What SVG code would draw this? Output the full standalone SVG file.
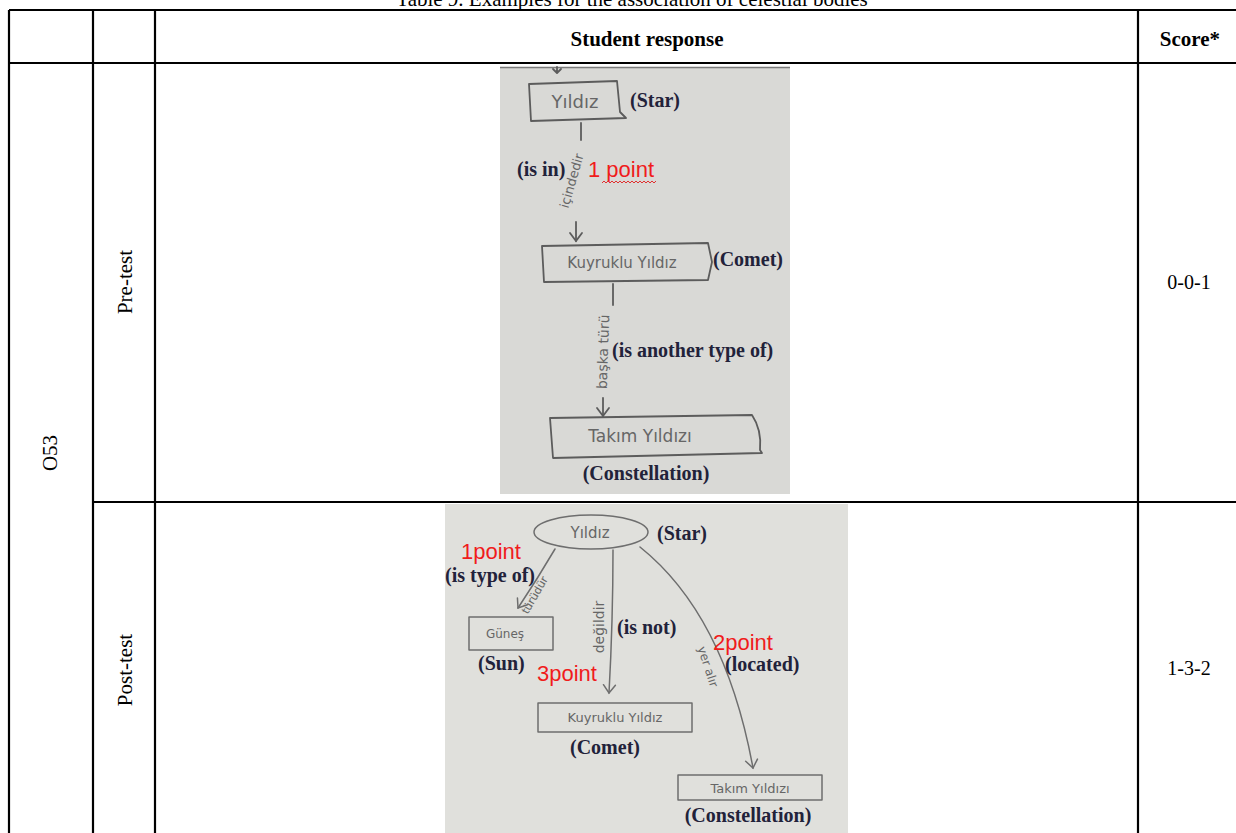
<svg xmlns="http://www.w3.org/2000/svg" width="1236" height="833" viewBox="0 0 1236 833">
<defs>
<style>
.grid{stroke:#000;stroke-width:2.2;fill:none}
.serif{font-family:"Liberation Serif","Times New Roman",serif;fill:#000}
.cap{font-family:"Liberation Serif","Times New Roman",serif;fill:#22223a;font-size:20px;font-weight:bold}
.red{font-family:"Liberation Sans",Arial,sans-serif;fill:#f01c1c;font-size:22px}
.hand{font-family:"DejaVu Sans","Liberation Sans",sans-serif;fill:#666;text-anchor:middle}
.pen{fill:none;stroke:#5c5c5c;stroke-width:1.8;stroke-linecap:round;stroke-linejoin:round}
.pen2{fill:none;stroke:#6e6e6e;stroke-width:1.5;stroke-linecap:round;stroke-linejoin:round}
</style>
<marker id="vh" viewBox="-10 -8 12 16" markerWidth="12" markerHeight="16" refX="0" refY="0" orient="auto" markerUnits="userSpaceOnUse">
<path d="M-8,-6 L0,0 L-8,6" fill="none" stroke="#5c5c5c" stroke-width="1.8" stroke-linecap="round"/>
</marker>
<marker id="vh2" viewBox="-10 -8 12 16" markerWidth="12" markerHeight="16" refX="0" refY="0" orient="auto" markerUnits="userSpaceOnUse">
<path d="M-8,-6 L0,0 L-8,6" fill="none" stroke="#6e6e6e" stroke-width="1.5" stroke-linecap="round"/>
</marker>
</defs>
<rect width="1236" height="833" fill="#fff"/>

<g id="table">
<text class="serif" x="632" y="6" font-size="21" text-anchor="middle">Table 9. Examples for the association of celestial bodies</text>
<line class="grid" x1="9" y1="10" x2="1236" y2="10"/>
<line class="grid" x1="9" y1="63" x2="1236" y2="63"/>
<line class="grid" x1="93" y1="502" x2="1236" y2="502"/>
<line class="grid" x1="9" y1="10" x2="9" y2="833"/>
<line class="grid" x1="93" y1="10" x2="93" y2="833"/>
<line class="grid" x1="155" y1="10" x2="155" y2="833"/>
<line class="grid" x1="1138" y1="10" x2="1138" y2="833"/>
<text class="serif" x="647" y="46" font-size="21" font-weight="bold" text-anchor="middle">Student response</text>
<text class="serif" x="1190" y="46" font-size="21" font-weight="bold" text-anchor="middle">Score*</text>
<text class="serif" font-size="21" text-anchor="middle" transform="translate(57,453) rotate(-90)">O53</text>
<text class="serif" font-size="21" text-anchor="middle" transform="translate(132,282) rotate(-90)">Pre-test</text>
<text class="serif" font-size="21" text-anchor="middle" transform="translate(132,670) rotate(-90)">Post-test</text>
<text class="serif" x="1189" y="289" font-size="20" text-anchor="middle">0-0-1</text>
<text class="serif" x="1189" y="675" font-size="20" text-anchor="middle">1-3-2</text>
</g>

<g id="photo-pre">
<rect x="500" y="67" width="290" height="427" fill="#d9d9d6"/>
<line x1="500" y1="67.5" x2="790" y2="67.5" stroke="#7a7a7a" stroke-width="1.5"/>
</g>
<g id="photo-post">
<rect x="445" y="504" width="403" height="329" fill="#e0e0dc"/>
</g>

<g id="connectors">
<path class="pen" d="M557,67 L557,72 M553,69 L557,73 L561,69"/>
<path class="pen" d="M581,123 L581,140"/>
<path class="pen" d="M576,222 L576,241" marker-end="url(#vh)"/>
<path class="pen" d="M613,284 L613,305"/>
<path class="pen" d="M603,398 L603,416" marker-end="url(#vh)"/>
<path class="pen2" d="M555,549 Q538,578 518,608" marker-end="url(#vh2)"/>
<path class="pen2" d="M613,550 Q613,620 609,693" marker-end="url(#vh2)"/>
<path class="pen2" d="M640,547 Q725,615 753,768" marker-end="url(#vh2)"/>
</g>

<g id="pre-star">
<path class="pen" d="M529,84 L617,81 L620,112 L626,118 L531,121 Z"/>
<text class="hand" x="575" y="108" font-size="18" fill="#5a5a5a">Yıldız</text>
<text class="cap" x="630" y="107">(Star)</text>
</g>
<g id="pre-link1">
<text class="hand" font-size="13" fill="#777" transform="translate(576,182) rotate(-74)">içindedir</text>
<text class="cap" x="517" y="176" font-size="17">(is in)</text>
<text class="red" x="588" y="177" font-size="21">1 point</text>
<path d="M602,183 l2,-2 l2,2 l2,-2 l2,2 l2,-2 l2,2 l2,-2 l2,2 l2,-2 l2,2 l2,-2 l2,2 l2,-2 l2,2 l2,-2 l2,2 l2,-2 l2,2 l2,-2 l2,2 l2,-2 l2,2 l2,-2 l2,2 l2,-2 l2,2 l2,-2" fill="none" stroke="#e03030" stroke-width="1"/>
</g>
<g id="pre-comet">
<path class="pen" d="M542,246 L708,243 L712,262 L708,280 L544,282 Z"/>
<text class="hand" x="622" y="268" font-size="15" fill="#6a6a6a">Kuyruklu Yıldız</text>
<text class="cap" x="713" y="266">(Comet)</text>
</g>
<g id="pre-link2">
<text class="hand" font-size="14" fill="#777" transform="translate(608,352) rotate(-88)">başka türü</text>
<text class="cap" x="612" y="357" font-size="17">(is another type of)</text>
</g>
<g id="pre-constellation">
<path class="pen" d="M550,418 L752,415 Q762,430 760,450 L762,453 L553,458 Z"/>
<text class="hand" x="640" y="442" font-size="17" fill="#666">Takım Yıldızı</text>
<text class="cap" x="646" y="480" text-anchor="middle">(Constellation)</text>
</g>

<g id="post-star">
<ellipse class="pen2" cx="591" cy="532" rx="57" ry="17"/>
<text class="hand" x="590" y="538" font-size="15" fill="#777">Yıldız</text>
<text class="cap" x="657" y="540">(Star)</text>
</g>
<g id="post-link1">
<text class="red" x="461" y="559">1point</text>
<text class="cap" x="445" y="582" font-size="13">(is type of)</text>
<text class="hand" font-size="11" fill="#888" transform="translate(538,597) rotate(-60)">türüdür</text>
</g>
<g id="post-sun">
<rect class="pen2" x="469" y="617" width="84" height="33"/>
<text class="hand" x="505" y="638" font-size="12" fill="#9a9a9a">Güneş</text>
<text class="cap" x="478" y="670" font-size="19">(Sun)</text>
</g>
<g id="post-link2">
<text class="hand" font-size="14" fill="#777" transform="translate(604,627) rotate(-90)">değildir</text>
<text class="cap" x="617" y="634" font-size="17">(is not)</text>
<text class="red" x="537" y="681">3point</text>
</g>
<g id="post-link3">
<text class="hand" font-size="12" fill="#888" transform="translate(704,668) rotate(72)">yer alır</text>
<text class="red" x="713" y="650">2point</text>
<text class="cap" x="725" y="671" font-size="14.5">(located)</text>
</g>
<g id="post-comet">
<rect class="pen2" x="538" y="703" width="154" height="29"/>
<text class="hand" x="615" y="722" font-size="13" fill="#888">Kuyruklu Yıldız</text>
<text class="cap" x="605" y="754" text-anchor="middle">(Comet)</text>
</g>
<g id="post-constellation">
<rect class="pen2" x="678" y="775" width="144" height="25"/>
<text class="hand" x="750" y="793" font-size="13" fill="#888">Takım Yıldızı</text>
<text class="cap" x="748" y="822" text-anchor="middle">(Constellation)</text>
</g>
</svg>
